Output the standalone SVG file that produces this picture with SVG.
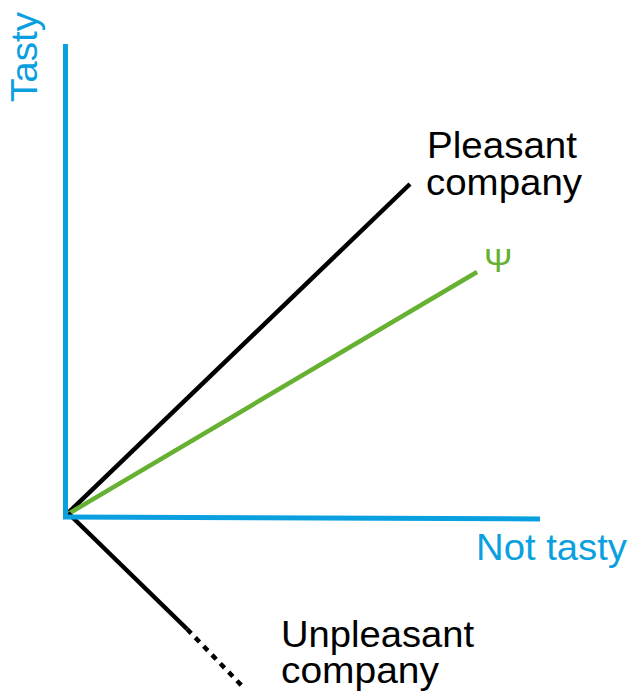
<svg xmlns="http://www.w3.org/2000/svg" width="630" height="691" viewBox="0 0 630 691">
<style>
.axis{stroke:#0aa0e0;stroke-width:5;fill:none}
.blk{stroke:#000;stroke-width:4.5;fill:none}
.grn{stroke:#66b032;stroke-width:4.5;fill:none}
text{font-family:"Liberation Sans",Arial,sans-serif;font-size:37px}
.bt{fill:#0aa0e0}
.kt{fill:#000}
.gt{fill:#66b032}
</style>
<rect width="630" height="691" fill="#fff"/>
<g id="connectors">
<line class="blk" x1="68" y1="513" x2="410" y2="184"/>
<line class="grn" x1="68" y1="514" x2="477" y2="272"/>
<line class="blk" x1="68" y1="513" x2="187" y2="629"/>
<line class="blk" x1="187" y1="629" x2="243" y2="687" stroke-dasharray="6,6" stroke-width="5"/>
</g>
<g id="axis-y"><line class="axis" x1="65.5" y1="44" x2="65.5" y2="519"/></g>
<g id="axis-x"><line class="axis" x1="63" y1="517" x2="540" y2="519"/></g>
<g id="label-tasty"><text class="bt" transform="translate(37,102) rotate(-90)" textLength="90" lengthAdjust="spacingAndGlyphs">Tasty</text></g>
<g id="label-nottasty"><text class="bt" x="476" y="560" textLength="151" lengthAdjust="spacingAndGlyphs">Not tasty</text></g>
<g id="label-pleasant"><text class="kt" x="427" y="158" textLength="150" lengthAdjust="spacingAndGlyphs">Pleasant</text><text class="kt" x="426" y="195" textLength="156" lengthAdjust="spacingAndGlyphs">company</text></g>
<g id="label-psi"><text class="gt" x="484" y="272" style="font-size:34px">Ψ</text></g>
<g id="label-unpleasant"><text class="kt" x="281" y="647" textLength="193" lengthAdjust="spacingAndGlyphs">Unpleasant</text><text class="kt" x="281" y="683" textLength="158" lengthAdjust="spacingAndGlyphs">company</text></g>
</svg>
